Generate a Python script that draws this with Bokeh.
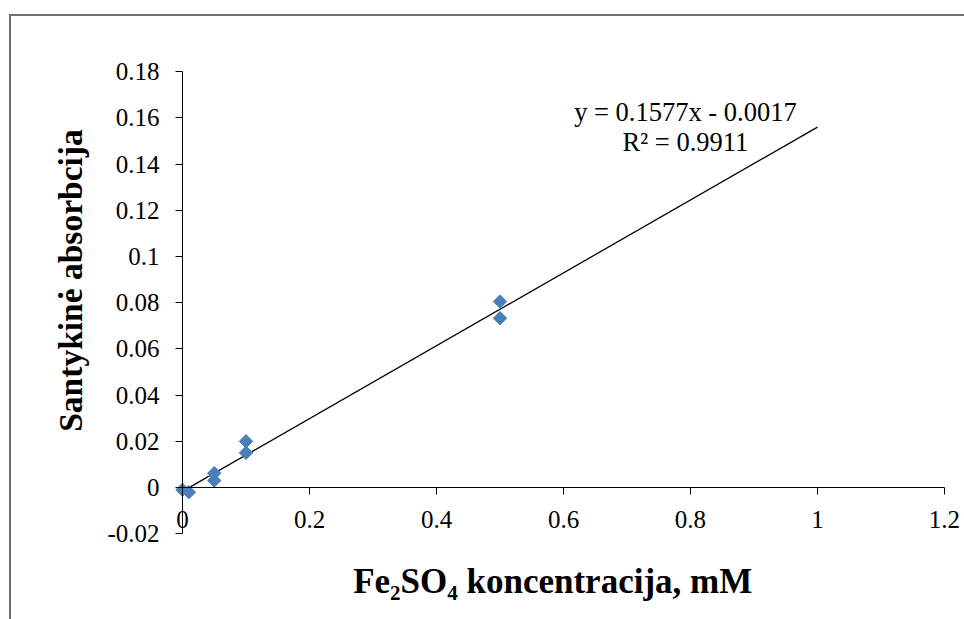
import numpy as np
from bokeh.plotting import figure
from bokeh.models import FixedTicker, Label
from bokeh.core.properties import value
from bokeh.embed import file_html
from bokeh.resources import INLINE

# Calibration data: Fe2SO4 concentration (mM) vs relative absorbance
conc_mM = [0.0, 0.01, 0.05, 0.05, 0.1, 0.1, 0.5, 0.5]
rel_absorbance = [-0.001, -0.002, 0.0062, 0.003, 0.020, 0.015, 0.0805, 0.0733]

# Linear trendline
slope = 0.1577
intercept = -0.0017
r_squared = 0.9911
trend_x = [0.0, 1.0]
trend_y = [slope * x + intercept for x in trend_x]

x_ticks = [0, 0.2, 0.4, 0.6, 0.8, 1.0, 1.2]
x_tick_labels = ["0", "0.2", "0.4", "0.6", "0.8", "1", "1.2"]
y_ticks = [-0.02, 0, 0.02, 0.04, 0.06, 0.08, 0.10, 0.12, 0.14, 0.16, 0.18]
y_tick_labels = ["-0.02", "0", "0.02", "0.04", "0.06", "0.08", "0.1",
                 "0.12", "0.14", "0.16", "0.18"]

x_title = "Fe\u2082SO\u2084 koncentracija, mM"
y_title = "Santykinė absorbcija"

SERIF = "Liberation Serif"

# The frame fills the whole canvas; axes are pinned at x = 0 and y = 0
# and bounded to the plotted extent, titles are placed as labels.
p = figure(
    frame_width=953, frame_height=603,
    min_border=0,
    x_range=(-0.2693, 1.2315), y_range=(-0.05714, 0.2039),
    output_backend="svg", toolbar_location=None,
)
p.styles = {
    "margin-left": "9px",
    "margin-top": "14px",
    "border-left": "2px solid #6e6e6e",
    "border-top": "2px solid #6e6e6e",
}
p.outline_line_color = None
p.background_fill_color = "white"
p.border_fill_color = "white"
p.xgrid.visible = False
p.ygrid.visible = False

p.xaxis.fixed_location = 0
p.xaxis.bounds = (x_ticks[0], x_ticks[-1])
p.xaxis.ticker = FixedTicker(ticks=x_ticks)
p.xaxis.major_label_overrides = {t: s for t, s in zip(x_ticks, x_tick_labels)}
p.yaxis.fixed_location = 0
p.yaxis.bounds = (y_ticks[0], y_ticks[-1])
p.yaxis.ticker = FixedTicker(ticks=y_ticks)
p.yaxis.major_label_overrides = {t: s for t, s in zip(y_ticks, y_tick_labels)}

for ax in (p.xaxis, p.yaxis):
    ax.axis_line_color = "black"
    ax.axis_line_width = 1
    ax.major_tick_line_color = "black"
    ax.major_tick_out = 7
    ax.major_tick_in = 0
    ax.minor_tick_line_color = None
    ax.major_label_text_font = SERIF
    ax.major_label_text_font_size = "25px"
    ax.major_label_text_color = "black"
p.xaxis.major_label_standoff = 16
p.yaxis.major_label_standoff = 16

# Trendline and measurements
p.line(trend_x, trend_y, line_color="black", line_width=1.3)
p.scatter(conc_mM, rel_absorbance, marker="square", size=9.5, angle=np.pi / 4,
          fill_color="#4a7ebb", line_color="#4a7ebb")

# Trendline equation
eq_text = [f"y = {slope}x - {abs(intercept)}", f"R² = {r_squared}"]
p.text(x=[0.792, 0.792], y=[0.1625, 0.1495], text=eq_text,
       text_font=value(SERIF), text_font_size="26.5px", text_color="black",
       text_align="center", text_baseline="middle")

# Axis titles
p.add_layout(Label(x=0.583, y=-0.0405, text=x_title, text_font=SERIF,
                   text_font_size="35px", text_font_style="bold",
                   text_align="center", text_baseline="middle",
                   text_color="black"))
p.add_layout(Label(x=-0.176, y=0.0896, text=y_title, text_font=SERIF,
                   text_font_size="33.5px", text_font_style="bold",
                   angle=np.pi / 2, text_align="center",
                   text_baseline="middle", text_color="black"))

open("out.html", "w").write(file_html(p, INLINE))
